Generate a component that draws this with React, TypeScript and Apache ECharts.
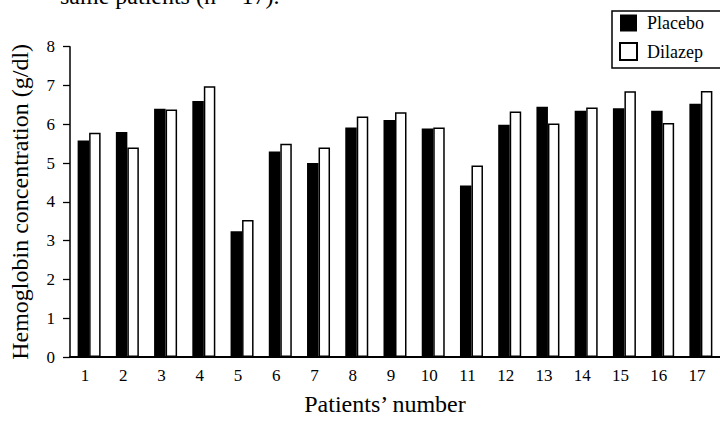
import React, { useEffect, useRef } from "react";
import * as echarts from "echarts";

const categories = ["1", "2", "3", "4", "5", "6", "7", "8", "9", "10", "11", "12", "13", "14", "15", "16", "17"];
const placebo = [5.58, 5.8, 6.4, 6.6, 3.24, 5.3, 5.0, 5.92, 6.11, 5.89, 4.42, 5.99, 6.45, 6.35, 6.41, 6.35, 6.53];
const dilazep = [5.78, 5.4, 6.38, 6.98, 3.53, 5.5, 5.4, 6.2, 6.31, 5.92, 4.94, 6.33, 6.02, 6.43, 6.85, 6.03, 6.86];
const seriesNames = ["Placebo", "Dilazep"];
const yAxisTitle = "Hemoglobin concentration (g/dl)";
const xAxisTitle = "Patients\u2019 number";
const caption = "same patients (n = 17).";

const FONT = "'Liberation Serif', 'Times New Roman', serif";

export default function App() {
  const ref = useRef<HTMLDivElement>(null);
  useEffect(() => {
    document.body.style.margin = "0";
    const chart = echarts.init(ref.current!, null, { renderer: "svg" });
    chart.setOption({
      animation: false,
      backgroundColor: "#ffffff",
      textStyle: { fontFamily: FONT, color: "#000" },
      graphic: [
        {
          type: "text",
          left: 60,
          top: -16,
          style: { text: caption, font: `24px ${FONT}`, fill: "#000" },
        },
      ],
      legend: {
        orient: "vertical",
        left: 612,
        top: 11,
        padding: [3, 50, 7, 7],
        itemWidth: 17,
        itemHeight: 17,
        itemGap: 10,
        borderColor: "#000",
        borderWidth: 1.5,
        icon: "rect",
        textStyle: { fontFamily: FONT, fontSize: 18, color: "#000", padding: [0, 0, 0, 5] },
        data: seriesNames,
      },
      grid: { left: 69, top: 46.7, width: 655, height: 316.3, containLabel: false },
      xAxis: {
        type: "category",
        data: categories,
        boundaryGap: true,
        axisLine: { show: true, lineStyle: { color: "#000", width: 2 } },
        axisTick: { show: false },
        axisLabel: {
          fontFamily: FONT,
          fontSize: 17,
          color: "#000",
          margin: 10,
          padding: [0, 8, 0, 0],
          interval: 0,
        },
        name: xAxisTitle,
        nameLocation: "middle",
        nameGap: 35,
        nameTextStyle: { fontFamily: FONT, fontSize: 24, color: "#000", padding: [0, 20, 0, 0] },
      },
      yAxis: {
        type: "value",
        min: 0,
        max: 8,
        interval: 1,
        splitLine: { show: false },
        axisLine: { show: true, lineStyle: { color: "#000", width: 1.5 } },
        axisTick: { show: true, length: 7, lineStyle: { color: "#000", width: 1.3 } },
        axisLabel: { fontFamily: FONT, fontSize: 17, color: "#000", margin: 15 },
        name: yAxisTitle,
        nameLocation: "middle",
        nameGap: 38,
        nameTextStyle: { fontFamily: FONT, fontSize: 24, color: "#000" },
      },
      series: [
        {
          name: seriesNames[0],
          type: "bar",
          data: placebo,
          barWidth: 11.5,
          barGap: "0%",
          itemStyle: { color: "#000", borderColor: "#000", borderWidth: 0 },
        },
        {
          name: seriesNames[1],
          type: "bar",
          data: dilazep,
          barWidth: 11.5,
          barGap: "0%",
          itemStyle: { color: "#fff", borderColor: "#000", borderWidth: 1.5 },
        },
      ],
    });
    return () => chart.dispose();
  }, []);
  return <div ref={ref} style={{ position: "fixed", left: 0, top: 0, width: 720, height: 421 }} />;
}
